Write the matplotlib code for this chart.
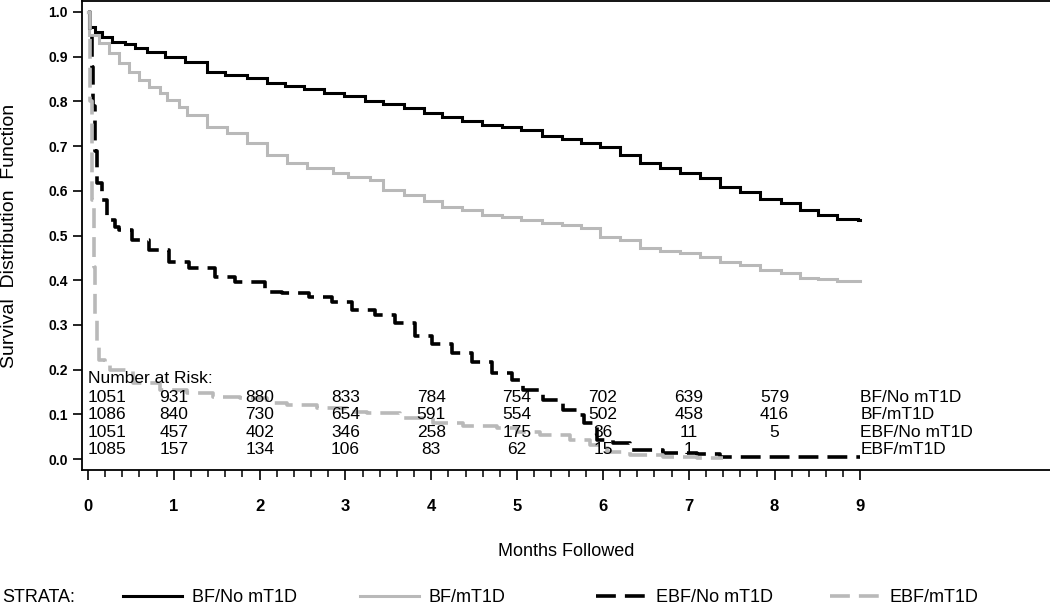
import matplotlib
matplotlib.use('Agg')
import matplotlib.pyplot as plt
import matplotlib.transforms as mtransforms
from matplotlib.lines import Line2D
from matplotlib.ticker import FormatStrFormatter

plt.rcParams['font.family'] = ['Liberation Sans', 'DejaVu Sans']

# Kaplan-Meier estimates (months, survival)
bf_no_t = [0, 0.01, 0.08, 0.16, 0.28, 0.43, 0.55, 0.69, 0.9, 1.13, 1.39, 1.6, 1.85,
           2.09, 2.3, 2.52, 2.75, 2.98, 3.23, 3.44, 3.68, 3.91, 4.12, 4.36, 4.59,
           4.82, 5.05, 5.29, 5.52, 5.75, 5.97, 6.2, 6.43, 6.67, 6.9, 7.13, 7.37,
           7.6, 7.83, 8.07, 8.3, 8.51, 8.73, 8.97, 9.0]
bf_no_s = [1.0, 0.967, 0.955, 0.944, 0.933, 0.928, 0.92, 0.911, 0.9, 0.888, 0.866,
           0.859, 0.852, 0.841, 0.834, 0.828, 0.819, 0.812, 0.80, 0.794, 0.786,
           0.773, 0.764, 0.756, 0.747, 0.742, 0.736, 0.723, 0.715, 0.706, 0.697,
           0.68, 0.663, 0.65, 0.639, 0.628, 0.609, 0.598, 0.581, 0.572, 0.557,
           0.546, 0.538, 0.535, 0.535]

bf_t = [0, 0.01, 0.13, 0.25, 0.36, 0.48, 0.59, 0.71, 0.84, 0.92, 1.06, 1.15, 1.39,
        1.62, 1.85, 2.08, 2.32, 2.55, 2.86, 3.03, 3.29, 3.44, 3.68, 3.91, 4.12,
        4.36, 4.59, 4.82, 5.05, 5.29, 5.52, 5.75, 5.97, 6.2, 6.43, 6.67, 6.9,
        7.13, 7.37, 7.6, 7.83, 8.07, 8.3, 8.51, 8.73, 9.0]
bf_s = [1.0, 0.949, 0.93, 0.908, 0.886, 0.866, 0.848, 0.832, 0.819, 0.803, 0.788,
        0.77, 0.743, 0.729, 0.707, 0.68, 0.662, 0.651, 0.64, 0.631, 0.624, 0.602,
        0.591, 0.578, 0.564, 0.557, 0.546, 0.541, 0.535, 0.529, 0.523, 0.516,
        0.497, 0.49, 0.471, 0.466, 0.46, 0.453, 0.441, 0.434, 0.423, 0.415,
        0.406, 0.402, 0.399, 0.399]

ebf_no_t = [0, 0.02, 0.05, 0.06, 0.08, 0.1, 0.16, 0.22, 0.31, 0.36, 0.51, 0.71,
            0.94, 1.18, 1.48, 1.71, 2.06, 2.26, 2.58, 2.84, 3.08, 3.35, 3.58,
            3.81, 4.01, 4.24, 4.48, 4.71, 4.94, 5.07, 5.3, 5.54, 5.73, 5.78,
            5.93, 6.12, 6.32, 6.7, 7.1, 7.37, 9.0]
ebf_no_s = [1.0, 0.96, 0.877, 0.79, 0.69, 0.617, 0.58, 0.535, 0.52, 0.512, 0.49,
            0.468, 0.44, 0.427, 0.407, 0.396, 0.374, 0.371, 0.362, 0.351, 0.333,
            0.322, 0.304, 0.275, 0.257, 0.237, 0.217, 0.192, 0.177, 0.154, 0.132,
            0.11, 0.098, 0.08, 0.042, 0.036, 0.02, 0.013, 0.011, 0.004, 0.004]

ebf_t = [0, 0.02, 0.05, 0.07, 0.08, 0.1, 0.13, 0.2, 0.26, 0.53, 0.84, 1.15, 1.46,
         1.77, 2.08, 2.32, 2.67, 3.02, 3.25, 3.64, 4.02, 4.37, 4.77, 5.0, 5.27,
         5.62, 5.85, 6.05, 6.32, 6.7, 7.1, 7.4]
ebf_s = [1.0, 0.80, 0.58, 0.43, 0.318, 0.25, 0.221, 0.21, 0.2, 0.17, 0.154, 0.148,
         0.139, 0.136, 0.125, 0.121, 0.114, 0.105, 0.103, 0.092, 0.08, 0.074,
         0.069, 0.06, 0.054, 0.042, 0.031, 0.016, 0.009, 0.004, 0.002, 0.002]

strata = ['BF/No mT1D', 'BF/mT1D', 'EBF/No mT1D', 'EBF/mT1D']
risk_months = [0, 1, 2, 3, 4, 5, 6, 7, 8]
risk_bf_no = [1051, 931, 880, 833, 784, 754, 702, 639, 579]
risk_bf = [1086, 840, 730, 654, 591, 554, 502, 458, 416]
risk_ebf_no = [1051, 457, 402, 346, 258, 175, 36, 11, 5]
risk_ebf = [1085, 157, 134, 106, 83, 62, 15, 1]

GRAY = '#b9b9b9'
styles = [dict(color='black', lw=2.2, ls='-'),
          dict(color=GRAY, lw=2.2, ls='-'),
          dict(color='black', lw=2.6, ls=(0, (5.5, 2.5))),
          dict(color=GRAY, lw=2.6, ls=(0, (5.5, 2.5)))]

fig = plt.figure(figsize=(10.5, 6.1), dpi=100)
ax = fig.add_axes([82 / 1050, 1 - 470 / 610, 968 / 1050, 469 / 610])

curves = [(bf_no_t, bf_no_s), (bf_t, bf_s), (ebf_no_t, ebf_no_s), (ebf_t, ebf_s)]
for (t, s), st in zip(curves, styles):
    ax.step(t, s, where='post', solid_joinstyle='miter', **st)

ax.set_xlim(-0.07, 11.21)
ax.set_ylim(-0.0246, 1.0246)
ax.set_yticks([i / 10 for i in range(11)])
ax.yaxis.set_major_formatter(FormatStrFormatter('%.1f'))
ax.set_xticks(range(10))
ax.set_xticks([i / 5 for i in range(46)], minor=True)

for side in ['left', 'bottom', 'top']:
    ax.spines[side].set_linewidth(1.3)
ax.spines['right'].set_visible(False)

ax.tick_params(axis='y', direction='out', length=6.5, width=1.2, pad=3.5,
               labelsize=10)
ax.tick_params(axis='x', which='major', direction='out', length=7.2, width=1.2,
               pad=14, labelsize=12)
ax.tick_params(axis='x', which='minor', direction='out', length=4.7, width=1.1)
for lab in ax.get_xticklabels() + ax.get_yticklabels():
    lab.set_fontweight('bold')

ax.set_ylabel('Survival  Distribution  Function', fontsize=14, va='center')
ax.yaxis.set_label_coords(-72 / 968, 0.5)
ax.set_xlabel('Months Followed', fontsize=13, va='center')
ax.xaxis.set_label_coords(0.5, -81 / 469)

# number at risk table
trans = mtransforms.blended_transform_factory(ax.transData, ax.transAxes)
ax.text(0, 0.185, 'Number at Risk:', transform=trans, fontsize=12.5,
        ha='left', va='baseline')
rows = [risk_bf_no, risk_bf, risk_ebf_no, risk_ebf]
row_y = [0.145, 0.1085, 0.070, 0.034]
for vals, name, y in zip(rows, strata, row_y):
    for m, v in zip(risk_months, vals):
        ax.text(m, y, str(v), transform=trans, fontsize=12.5,
                ha='left' if m == 0 else 'center', va='baseline')
    ax.text(9, y, name, transform=trans, fontsize=12.5, ha='left', va='baseline')

# strata legend along the bottom
leg_y = 1 - 598 / 610
fig.text(0.002, leg_y, 'STRATA:', fontsize=13, va='center', ha='left')
leg_x = [123 / 1050, 360 / 1050, 596 / 1050, 830 / 1050]
hlen = [3.27, 3.27, 2.75, 2.75]
for name, st, x, hl in zip(strata, styles, leg_x, hlen):
    h = Line2D([], [], **st)
    fig.legend(handles=[h], labels=[name], loc='center left',
               bbox_to_anchor=(x, leg_y), frameon=False, fontsize=13,
               borderaxespad=0, borderpad=0, handlelength=hl,
               handletextpad=0.55)

fig.savefig('out.png', dpi=100)
